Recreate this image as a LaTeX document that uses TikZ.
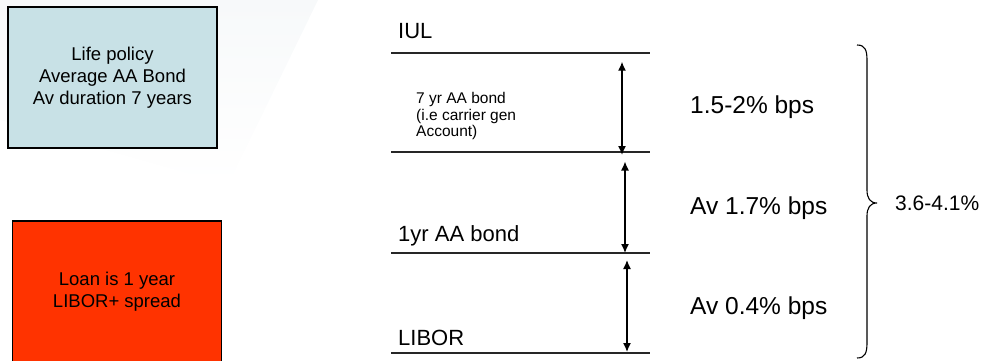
\documentclass[tikz,border=0pt]{standalone}
\usepackage{fontspec}
\setmainfont{Liberation Sans}
\usetikzlibrary{arrows.meta}
\definecolor{boxblue}{RGB}{200,225,230}
\definecolor{boxred}{RGB}{255,51,0}
\definecolor{bgtint}{RGB}{247,249,250}
\tikzset{
  infobox/.style={draw=black, line width=1.3pt, inner sep=0pt},
  boxtext/.style={align=center, font=\fontsize{18.5}{22}\selectfont},
  level/.style={line width=1.3pt, draw=black!85},
  levellabel/.style={anchor=base west, inner sep=0pt, font=\fontsize{22}{26}\selectfont},
  smalllabel/.style={anchor=base west, inner sep=0pt, align=left, font=\fontsize{15.5}{16.7}\selectfont},
  spreadlabel/.style={anchor=base west, inner sep=0pt, font=\fontsize{24.5}{28}\selectfont},
  span/.style={line width=1.4pt, {Latex[length=9pt,width=8pt]}-{Latex[length=9pt,width=8pt]}},
  bracepath/.style={line width=1.1pt},
}
\begin{document}
\begin{tikzpicture}[x=1pt,y=-1pt]
\useasboundingbox (0,0) rectangle (983,360);
% faint background tint
\shade[top color=bgtint, bottom color=white, draw=none] (0,0) -- (318,0) -- (228,185) -- (0,120) -- cycle;
% left boxes
\draw[infobox, fill=boxblue] (8,7) rectangle (217,148);
\node[boxtext] (life) at (112.5,78) {Life policy\\Average AA Bond\\Av duration 7 years};
\draw[infobox, fill=boxred] (12.5,221) rectangle (221.5,366);
\node[boxtext] (loan) at (117,292) {Loan is 1 year\\LIBOR+ spread};
% level lines
\coordinate (a1) at (391,53);  \coordinate (b1) at (650,53);
\coordinate (a2) at (391,152); \coordinate (b2) at (650,152);
\coordinate (a3) at (391,253); \coordinate (b3) at (650,253);
\coordinate (a4) at (391,353); \coordinate (b4) at (650,353);
\draw[level] (a1) -- (b1);
\draw[level] (a2) -- (b2);
\draw[level] (a3) -- (b3);
\draw[level] (a4) -- (b4);
% level labels
\node[levellabel] (iul) at (398,38) {IUL};
\node[levellabel] (oneyr) at (398,241.7) {1yr AA bond};
\node[levellabel] (libor) at (398,345) {LIBOR};
\node[smalllabel] (seven) at (416,136.7) {7 yr AA bond\\(i.e carrier gen\\Account)};
% arrows
\coordinate (t1) at (622,61.7);  \coordinate (u1) at (622,155);
\coordinate (t2) at (625,161.5); \coordinate (u2) at (625,253);
\coordinate (t3) at (627,260);   \coordinate (u3) at (627,352);
\draw[span] (t1) -- (u1);
\draw[span] (t2) -- (u2);
\draw[span] (t3) -- (u3);
% spread labels
\node[spreadlabel] (s1) at (690,113) {1.5-2\% bps};
\node[spreadlabel] (s2) at (690,214) {Av 1.7\% bps};
\node[spreadlabel] (s3) at (690,314) {Av 0.4\% bps};
% brace
\draw[bracepath] (857,45) .. controls (865,45) and (867,50) .. (867,60)
  -- (867,190) .. controls (867,198) and (870,203) .. (877,203)
  .. controls (870,203) and (867,208) .. (867,216)
  -- (867,343) .. controls (867,353) and (865,358) .. (857,358);
\node[anchor=base west, inner sep=0pt, font=\fontsize{21}{25}\selectfont] (total) at (895,210) {3.6-4.1\%};
\end{tikzpicture}
\end{document}
